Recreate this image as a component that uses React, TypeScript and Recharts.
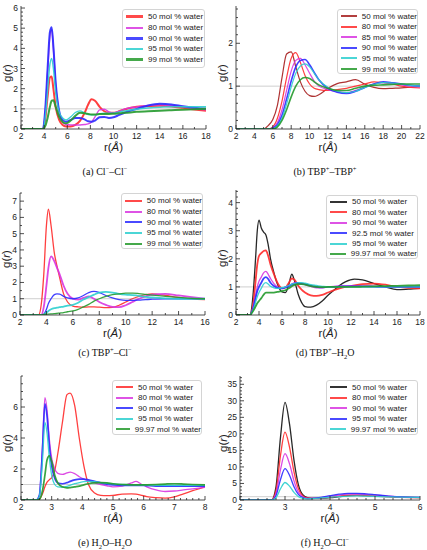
import { LineChart, Line, XAxis, YAxis, ReferenceLine } from "recharts";

// ---------- (a) Cl–Cl ----------
const rA = [2, 3.9, 4.1, 4.3, 4.5, 4.65, 4.8, 5.0, 5.3, 5.6, 5.9, 6.3, 6.7, 7.1, 7.5, 7.8, 8.1, 8.4, 8.8, 9.2, 9.6, 10, 10.5, 11, 12, 13, 14, 15, 16, 17, 18];
const clcl50 = [0, 0, 0.5, 1.6, 2.55, 2.6, 2.0, 1.1, 0.45, 0.2, 0.13, 0.12, 0.2, 0.4, 0.8, 1.2, 1.48, 1.4, 1.1, 0.88, 0.8, 0.8, 0.88, 0.98, 1.1, 1.13, 1.15, 1.12, 1.05, 0.97, 0.9];
const clcl80 = [0, 0, 0.9, 2.8, 4.6, 4.95, 4.0, 2.2, 0.8, 0.35, 0.22, 0.2, 0.2, 0.2, 0.22, 0.25, 0.35, 0.6, 0.95, 0.98, 0.85, 0.8, 0.88, 1.0, 1.1, 1.17, 1.2, 1.17, 1.1, 1.0, 0.95];
const clcl90 = [0, 0, 1.0, 3.0, 4.8, 5.05, 4.1, 2.3, 0.9, 0.45, 0.36, 0.45, 0.55, 0.55, 0.48, 0.38, 0.36, 0.42, 0.58, 0.6, 0.55, 0.58, 0.7, 0.82, 1.0, 1.17, 1.25, 1.22, 1.13, 1.05, 1.0];
const clcl95 = [0, 0, 0.6, 1.9, 3.2, 3.5, 3.0, 1.8, 0.85, 0.55, 0.45, 0.6, 0.82, 0.9, 0.8, 0.72, 0.7, 0.7, 0.75, 0.78, 0.78, 0.78, 0.85, 0.9, 0.98, 1.04, 1.08, 1.1, 1.1, 1.1, 1.1];
const clcl99 = [0, 0, 0.15, 0.55, 1.1, 1.4, 1.42, 1.1, 0.6, 0.35, 0.28, 0.42, 0.65, 0.8, 0.78, 0.75, 0.72, 0.72, 0.74, 0.75, 0.75, 0.76, 0.78, 0.8, 0.85, 0.88, 0.9, 0.93, 0.96, 0.98, 1.0];

// ---------- (b) TBP–TBP ----------
const rB = [2, 5.0, 5.5, 6, 6.5, 7, 7.5, 8, 8.5, 9, 9.5, 10, 10.5, 11, 12, 13, 14, 15, 16, 17, 18, 19, 20, 21, 22];
const tt50 = [0, 0, 0.08, 0.22, 0.55, 1.2, 1.75, 1.8, 1.45, 1.1, 0.88, 0.78, 0.76, 0.8, 0.95, 1.06, 1.1, 1.15, 1.05, 0.97, 0.94, 0.95, 0.96, 0.98, 1.0];
const tt80 = [0, 0, 0, 0.05, 0.25, 0.65, 1.2, 1.65, 1.78, 1.55, 1.25, 1.05, 0.95, 0.92, 0.9, 0.92, 0.95, 1.0, 1.05, 1.1, 1.08, 1.05, 1.0, 0.97, 0.96];
const tt85 = [0, 0, 0, 0.03, 0.15, 0.45, 0.9, 1.35, 1.6, 1.65, 1.5, 1.3, 1.12, 1.0, 0.92, 0.87, 0.85, 0.9, 0.98, 1.05, 1.08, 1.07, 1.03, 1.0, 0.98];
const tt90 = [0, 0, 0, 0.02, 0.1, 0.32, 0.7, 1.12, 1.45, 1.6, 1.62, 1.5, 1.32, 1.15, 0.95, 0.86, 0.83, 0.88, 0.97, 1.05, 1.1, 1.08, 1.05, 1.02, 1.0];
const tt95 = [0, 0, 0, 0.01, 0.07, 0.25, 0.58, 0.98, 1.3, 1.47, 1.52, 1.45, 1.3, 1.15, 0.97, 0.88, 0.85, 0.88, 0.97, 1.04, 1.08, 1.07, 1.05, 1.02, 1.0];
const tt99 = [0, 0, 0, 0, 0.05, 0.2, 0.45, 0.75, 1.0, 1.15, 1.2, 1.18, 1.1, 1.03, 0.95, 0.9, 0.9, 0.95, 1.0, 1.02, 1.03, 1.04, 1.05, 1.05, 1.05];

// ---------- (c) TBP–Cl ----------
const rC = [2, 3.4, 3.6, 3.8, 4.0, 4.15, 4.35, 4.6, 4.8, 5.0, 5.3, 5.6, 6.0, 6.4, 6.8, 7.2, 7.6, 8.0, 8.5, 9.0, 9.5, 10, 10.5, 11, 11.5, 12, 13, 14, 15, 16];
const tc50 = [0, 0, 0.6, 2.5, 5.5, 6.5, 5.5, 3.8, 3.0, 2.3, 1.3, 0.8, 0.55, 0.5, 0.48, 0.5, 0.5, 0.48, 0.45, 0.47, 0.6, 0.8, 1.0, 1.15, 1.25, 1.3, 1.2, 1.08, 1.0, 0.95];
const tc80 = [0, 0, 0, 0.5, 1.8, 2.9, 3.6, 3.3, 2.9, 2.5, 1.8, 1.3, 1.0, 0.95, 1.05, 1.15, 1.0, 0.8, 0.62, 0.5, 0.48, 0.6, 0.8, 1.0, 1.15, 1.25, 1.3, 1.2, 1.1, 1.0];
const tc90 = [0, 0, 0, 0.05, 0.35, 0.7, 1.0, 1.25, 1.3, 1.28, 1.15, 1.05, 1.0, 1.05, 1.2, 1.38, 1.45, 1.38, 1.2, 1.05, 0.95, 0.9, 0.9, 0.92, 0.95, 0.97, 1.0, 1.0, 1.0, 1.0];
const tc95 = [0, 0, 0, 0.02, 0.15, 0.25, 0.35, 0.42, 0.45, 0.48, 0.52, 0.58, 0.62, 0.75, 0.95, 1.1, 1.25, 1.38, 1.42, 1.38, 1.3, 1.25, 1.22, 1.18, 1.12, 1.08, 1.02, 1.0, 1.0, 1.0];
const tc99 = [0, 0, 0.01, 0.03, 0.05, 0.06, 0.07, 0.08, 0.1, 0.12, 0.15, 0.2, 0.25, 0.35, 0.5, 0.65, 0.85, 1.0, 1.15, 1.25, 1.3, 1.35, 1.35, 1.32, 1.27, 1.22, 1.15, 1.08, 1.02, 1.0];

// ---------- (d) TBP–H2O ----------
const rD = [2, 3.2, 3.5, 3.7, 3.85, 4.0, 4.2, 4.4, 4.6, 4.8, 5.0, 5.3, 5.6, 6.0, 6.3, 6.6, 6.85, 7.1, 7.4, 7.7, 8.0, 8.5, 9, 9.5, 10, 10.5, 11, 11.5, 12.3, 13, 14, 15, 16, 17, 18];
const tw50 = [0, 0, 0.8, 2.0, 3.0, 3.38, 3.1, 2.95, 2.85, 2.5, 2.0, 1.5, 1.1, 0.82, 0.8, 1.1, 1.45, 1.2, 0.75, 0.45, 0.3, 0.28, 0.35, 0.5, 0.7, 0.88, 1.05, 1.18, 1.28, 1.25, 1.12, 1.0, 0.9, 0.92, 0.95];
const tw80 = [0, 0, 0.4, 1.2, 1.8, 2.1, 2.2, 2.28, 2.3, 2.1, 1.8, 1.45, 1.15, 0.95, 0.98, 1.15, 1.3, 1.25, 1.05, 0.9, 0.8, 0.7, 0.68, 0.72, 0.8, 0.88, 0.95, 1.0, 1.05, 1.1, 1.12, 1.08, 1.0, 0.97, 0.95];
const tw90 = [0, 0, 0.3, 0.7, 1.0, 1.2, 1.35, 1.5, 1.55, 1.45, 1.3, 1.12, 1.0, 0.95, 1.0, 1.05, 1.1, 1.15, 1.15, 1.12, 1.08, 1.02, 0.97, 0.97, 1.0, 1.02, 1.03, 1.04, 1.04, 1.03, 1.02, 1.0, 1.0, 1.0, 1.0];
const tw925 = [0, 0, 0.25, 0.6, 0.85, 1.0, 1.15, 1.3, 1.35, 1.28, 1.15, 1.03, 0.97, 0.95, 0.98, 1.03, 1.08, 1.12, 1.14, 1.12, 1.1, 1.05, 1.0, 0.98, 1.0, 1.0, 1.01, 1.02, 1.02, 1.02, 1.01, 1.0, 1.0, 1.0, 1.0];
const tw95 = [0, 0, 0.2, 0.45, 0.65, 0.8, 0.95, 1.1, 1.15, 1.1, 1.02, 0.97, 0.95, 0.97, 1.0, 1.05, 1.1, 1.12, 1.15, 1.15, 1.13, 1.08, 1.05, 1.02, 1.0, 1.0, 1.0, 1.0, 1.0, 1.0, 1.0, 1.0, 1.0, 1.0, 1.0];
const tw9997 = [0, 0, 0.15, 0.3, 0.42, 0.5, 0.6, 0.72, 0.8, 0.8, 0.8, 0.8, 0.82, 0.85, 0.88, 0.95, 1.02, 1.07, 1.1, 1.1, 1.08, 1.03, 1.0, 0.99, 1.0, 1.0, 1.0, 1.0, 1.0, 1.01, 1.02, 1.03, 1.04, 1.05, 1.06];

// ---------- (e) H2O–H2O ----------
const rE = [2, 2.5, 2.6, 2.7, 2.78, 2.85, 2.92, 3.0, 3.1, 3.2, 3.35, 3.5, 3.6, 3.75, 3.9, 4.05, 4.2, 4.4, 4.6, 4.8, 5.0, 5.3, 5.6, 5.75, 5.9, 6.1, 6.4, 6.7, 7.0, 7.3, 7.6, 8.0];
const ww50 = [0, 0, 0.05, 0.4, 0.85, 1.15, 1.3, 1.45, 1.9, 3.0, 5.0, 6.8, 6.9, 6.1, 4.0, 2.2, 1.0, 0.45, 0.3, 0.28, 0.3, 0.38, 0.4, 0.38, 0.32, 0.22, 0.15, 0.12, 0.2, 0.4, 0.6, 0.85];
const ww80 = [0, 0, 0.3, 3.5, 6.6, 5.8, 4.0, 2.7, 2.0, 1.72, 1.65, 1.75, 1.8, 1.7, 1.5, 1.35, 1.25, 1.1, 1.0, 0.92, 0.85, 0.9, 1.1, 1.2, 1.05, 0.85, 0.65, 0.55, 0.58, 0.65, 0.72, 0.82];
const ww90 = [0, 0, 0.3, 3.2, 6.2, 5.4, 3.6, 2.2, 1.4, 1.1, 1.05, 1.12, 1.2, 1.3, 1.35, 1.35, 1.3, 1.2, 1.1, 1.02, 0.97, 0.95, 0.95, 0.95, 0.95, 0.93, 0.9, 0.9, 0.9, 0.9, 0.9, 0.9];
const ww95 = [0, 0, 0.25, 2.5, 5.0, 4.3, 2.8, 1.6, 1.0, 0.85, 0.82, 0.88, 0.95, 1.05, 1.12, 1.18, 1.2, 1.18, 1.12, 1.08, 1.05, 1.0, 0.98, 0.97, 0.97, 0.96, 0.95, 0.95, 0.95, 0.95, 0.95, 0.95];
const ww9997 = [0, 0, 0.05, 0.6, 1.6, 2.6, 2.85, 2.5, 1.6, 1.1, 0.85, 0.78, 0.8, 0.85, 0.9, 0.98, 1.05, 1.1, 1.12, 1.1, 1.05, 1.0, 0.98, 0.97, 0.97, 0.98, 1.0, 1.03, 1.05, 1.03, 1.0, 0.97];

// ---------- (f) H2O–Cl ----------
const rF = [2, 2.7, 2.8, 2.9, 3.0, 3.1, 3.2, 3.3, 3.4, 3.5, 3.6, 3.8, 4.0, 4.2, 4.4, 4.6, 4.8, 5.0, 5.3, 5.6, 6.0];
const wc50 = [0, 0, 4, 19, 29.5, 23, 12, 4.5, 1.5, 0.7, 0.5, 0.5, 0.7, 1.0, 1.3, 1.4, 1.3, 1.2, 1.0, 0.85, 0.7];
const wc80 = [0, 0, 2.8, 13.5, 20.5, 16, 8.5, 3.3, 1.2, 0.6, 0.5, 0.6, 0.9, 1.2, 1.5, 1.5, 1.4, 1.2, 1.0, 0.8, 0.7];
const wc90 = [0, 0, 1.9, 9.2, 14, 11, 5.8, 2.3, 0.9, 0.5, 0.5, 0.7, 1.1, 1.5, 1.75, 1.8, 1.7, 1.5, 1.2, 0.95, 0.8];
const wc95 = [0, 0, 1.3, 6.2, 9.5, 7.5, 4.0, 1.6, 0.7, 0.4, 0.45, 0.8, 1.3, 1.75, 2.0, 2.0, 1.85, 1.6, 1.2, 0.95, 0.8];
const wc9997 = [0, 0, 0.7, 3.4, 5.3, 4.2, 2.3, 1.0, 0.5, 0.35, 0.4, 0.6, 0.85, 1.05, 1.2, 1.25, 1.2, 1.1, 0.95, 0.85, 0.8];

const RED = "#ff2a2a";
const MAG = "#d835e0";
const BLUE = "#2a2aff";
const CYAN = "#2ccfcf";
const GREEN = "#249a2c";
const DARKRED = "#a51c1c";
const BLACK = "#111111";

const SANS = "'Liberation Sans', Arial, sans-serif";
const SERIF = "'Liberation Serif', 'Times New Roman', serif";

interface Series {
  name: string;
  color: string;
  values: number[];
  width?: number;
}

interface PanelDef {
  r: number[];
  series: Series[];
  plot: { left: number; top: number; right: number; bottom: number };
  xDomain: [number, number];
  xTicks: number[];
  xMinor: number;
  yDomain: [number, number];
  yTicks: number[];
  yMinor: number;
  legend: { left: number; top: number; width: number; height: number; pad: number; row: number };
  caption: React.ReactNode;
  captionX: number;
  captionY: number;
  gx: number;
  lw: number;
}

const range = (a: number, b: number, step: number) => {
  const out: number[] = [];
  for (let v = a; v <= b + 1e-9; v += step) out.push(Math.round(v * 1000) / 1000);
  return out;
};

const isIn = (list: number[], v: number) => list.some((m) => Math.abs(m - v) < 1e-6);

// frame ticks point inwards; major ones are longer and labelled on bottom/left
const makeTick =
  (side: "bottom" | "top" | "left" | "right", majors: number[], labels: boolean) =>
  (props: any) => {
    const { x, y, payload } = props;
    const v = payload.value;
    const major = isIn(majors, v);
    const len = major ? 4 : 2;
    let line;
    if (side === "bottom") line = <line x1={x} y1={y} x2={x} y2={y - len} stroke="#222" strokeWidth={0.8} />;
    else if (side === "top") line = <line x1={x} y1={y} x2={x} y2={y + len} stroke="#222" strokeWidth={0.8} />;
    else if (side === "left") line = <line x1={x} y1={y} x2={x + len} y2={y} stroke="#222" strokeWidth={0.8} />;
    else line = <line x1={x} y1={y} x2={x - len} y2={y} stroke="#222" strokeWidth={0.8} />;
    return (
      <g>
        {line}
        {labels && major && side === "bottom" && (
          <text x={x} y={y + 9.5} textAnchor="middle" fontSize={8.5} fontFamily={SANS} fill="#222">
            {v}
          </text>
        )}
        {labels && major && side === "left" && (
          <text x={x - 3} y={y + 3} textAnchor="end" fontSize={8.5} fontFamily={SANS} fill="#222">
            {v}
          </text>
        )}
      </g>
    );
  };

function Panel({ d }: { d: PanelDef }) {
  const padL = 22;
  const padT = 2;
  const padR = 8;
  const padB = 20;
  const w = d.plot.right - d.plot.left + padL + padR;
  const h = d.plot.bottom - d.plot.top + padT + padB;
  const rows = d.r.map((x, i) => {
    const row: any = { r: x };
    d.series.forEach((s, k) => (row["s" + k] = s.values[i]));
    return row;
  });
  const xAll = range(d.xDomain[0], d.xDomain[1], d.xMinor);
  const yAll = range(d.yDomain[0], d.yDomain[1], d.yMinor);
  const midX = (d.plot.left + d.plot.right) / 2;
  const midY = (d.plot.top + d.plot.bottom) / 2 + 5;
  return (
    <>
      <div style={{ position: "absolute", left: d.plot.left - padL, top: d.plot.top - padT }}>
        <LineChart width={w} height={h} data={rows} margin={{ top: padT, right: padR, left: 0, bottom: 0 }}>
          <XAxis
            xAxisId="x"
            dataKey="r"
            type="number"
            domain={d.xDomain}
            ticks={xAll}
            interval={0}
            allowDataOverflow
            height={padB}
            tickSize={0}
            tickMargin={0}
            tickLine={false}
            axisLine={{ stroke: "#222", strokeWidth: 0.8 }}
            tick={makeTick("bottom", d.xTicks, true)}
          />
          <XAxis
            xAxisId="xt"
            orientation="top"
            type="number"
            domain={d.xDomain}
            ticks={xAll}
            interval={0}
            allowDataOverflow
            height={0}
            tickSize={0}
            tickMargin={0}
            tickLine={false}
            axisLine={{ stroke: "#222", strokeWidth: 0.8 }}
            tick={makeTick("top", d.xTicks, false)}
          />
          <YAxis
            yAxisId="y"
            type="number"
            domain={d.yDomain}
            ticks={yAll}
            interval={0}
            allowDataOverflow
            width={padL}
            tickSize={0}
            tickMargin={0}
            tickLine={false}
            axisLine={{ stroke: "#222", strokeWidth: 0.8 }}
            tick={makeTick("left", d.yTicks, true)}
          />
          <YAxis
            yAxisId="yr"
            orientation="right"
            type="number"
            domain={d.yDomain}
            ticks={yAll}
            interval={0}
            allowDataOverflow
            width={0}
            tickSize={0}
            tickMargin={0}
            tickLine={false}
            axisLine={{ stroke: "#222", strokeWidth: 0.8 }}
            tick={makeTick("right", d.yTicks, false)}
          />
          <ReferenceLine xAxisId="x" yAxisId="y" y={1} stroke="#cfcfcf" strokeWidth={1} />
          {d.series.map((s, k) => (
            <Line
              key={s.name}
              xAxisId="x"
              yAxisId="y"
              dataKey={"s" + k}
              type="monotone"
              stroke={s.color}
              strokeWidth={s.width ?? d.lw}
              strokeOpacity={0.9}
              dot={false}
              isAnimationActive={false}
            />
          ))}
        </LineChart>
      </div>
      <div
        style={{
          position: "absolute",
          left: d.gx - 20,
          top: midY - 8,
          width: 40,
          height: 16,
          lineHeight: "16px",
          textAlign: "center",
          transform: "rotate(-90deg)",
          fontFamily: SANS,
          fontSize: 11.5,
          color: "#222",
        }}
      >
        g(<i>r</i>)
      </div>
      <div
        style={{
          position: "absolute",
          left: midX - 25,
          top: d.plot.bottom + 11,
          width: 50,
          textAlign: "center",
          fontFamily: SANS,
          fontSize: 11.5,
          lineHeight: "14px",
          color: "#222",
        }}
      >
        r(<i>Å</i>)
      </div>
      <div
        style={{
          position: "absolute",
          left: d.legend.left,
          top: d.legend.top,
          width: d.legend.width,
          height: d.legend.height,
          boxSizing: "border-box",
          border: "1px solid #d4d4d4",
          borderRadius: 3,
          background: "#fff",
          paddingTop: d.legend.pad,
        }}
      >
        {d.series.map((s) => (
          <div key={s.name} style={{ display: "flex", alignItems: "center", height: d.legend.row }}>
            <span
              style={{
                display: "inline-block",
                marginLeft: 3,
                width: 17,
                height: Math.max(2, Math.round((s.width ?? d.lw) + 0.6)),
                background: s.color,
                opacity: 0.85,
              }}
            />
            <span style={{ marginLeft: 5, fontFamily: SANS, fontSize: 8, color: "#222", whiteSpace: "nowrap" }}>
              {s.name}
            </span>
          </div>
        ))}
      </div>
      <div
        style={{
          position: "absolute",
          left: d.captionX - 70,
          top: d.captionY - 7,
          width: 140,
          textAlign: "center",
          fontFamily: SERIF,
          fontSize: 10,
          lineHeight: "14px",
          color: "#111",
        }}
      >
        {d.caption}
      </div>
    </>
  );
}

const sup = (t: string) => <sup style={{ fontSize: 6.5, lineHeight: 0 }}>{t}</sup>;
const sub = (t: string) => <sub style={{ fontSize: 6.5, lineHeight: 0 }}>{t}</sub>;

const panels: PanelDef[] = [
  {
    r: rA,
    series: [
      { name: "50 mol % water", color: RED, values: clcl50, width: 2 },
      { name: "80 mol % water", color: MAG, values: clcl80, width: 1.4 },
      { name: "90 mol % water", color: BLUE, values: clcl90, width: 2 },
      { name: "95 mol % water", color: CYAN, values: clcl95, width: 1.4 },
      { name: "99 mol % water", color: GREEN, values: clcl99, width: 2 },
    ],
    plot: { left: 21, top: 6, right: 206, bottom: 129 },
    xDomain: [2, 18],
    xTicks: [2, 4, 6, 8, 10, 12, 14, 16, 18],
    xMinor: 1,
    yDomain: [0, 6.1],
    yTicks: [0, 1, 2, 3, 4, 5, 6],
    yMinor: 0.2,
    legend: { left: 122, top: 9, width: 83, height: 59, pad: 1.5, row: 10.7 },
    caption: <>(a) Cl{sup("−")}–Cl{sup("−")}</>,
    captionX: 105,
    captionY: 172,
    gx: 7,
    lw: 1.6,
  },
  {
    r: rB,
    series: [
      { name: "50 mol % water", color: DARKRED, values: tt50 },
      { name: "80 mol % water", color: RED, values: tt80 },
      { name: "85 mol % water", color: MAG, values: tt85 },
      { name: "90 mol % water", color: BLUE, values: tt90, width: 1.6 },
      { name: "95 mol % water", color: CYAN, values: tt95 },
      { name: "99 mol % water", color: GREEN, values: tt99, width: 1.6 },
    ],
    plot: { left: 236, top: 6, right: 420, bottom: 129 },
    xDomain: [2, 22],
    xTicks: [2, 4, 6, 8, 10, 12, 14, 16, 18, 20, 22],
    xMinor: 1,
    yDomain: [0, 2.87],
    yTicks: [0, 1, 2],
    yMinor: 0.2,
    legend: { left: 337, top: 9, width: 81, height: 65, pad: 0.8, row: 10.6 },
    caption: <>(b) TBP{sup("+")}–TBP{sup("+")}</>,
    captionX: 325,
    captionY: 172,
    gx: 222,
    lw: 1.2,
  },
  {
    r: rC,
    series: [
      { name: "50 mol % water", color: RED, values: tc50 },
      { name: "80 mol % water", color: MAG, values: tc80, width: 1.8 },
      { name: "90 mol % water", color: BLUE, values: tc90 },
      { name: "95 mol % water", color: CYAN, values: tc95, width: 1.8 },
      { name: "99 mol % water", color: GREEN, values: tc99 },
    ],
    plot: { left: 20, top: 193, right: 205, bottom: 315 },
    xDomain: [2, 16],
    xTicks: [2, 4, 6, 8, 10, 12, 14, 16],
    xMinor: 1,
    yDomain: [0, 7.5],
    yTicks: [0, 1, 2, 3, 4, 5, 6, 7],
    yMinor: 0.5,
    legend: { left: 121, top: 193, width: 82, height: 56, pad: 1.5, row: 10.7 },
    caption: <>(c) TBP{sup("+")}–Cl{sup("−")}</>,
    captionX: 105,
    captionY: 353,
    gx: 6,
    lw: 1.3,
  },
  {
    r: rD,
    series: [
      { name: "50 mol % water", color: BLACK, values: tw50 },
      { name: "80 mol % water", color: RED, values: tw80, width: 1.8 },
      { name: "90 mol % water", color: MAG, values: tw90 },
      { name: "92.5 mol % water", color: BLUE, values: tw925, width: 1.8 },
      { name: "95 mol % water", color: CYAN, values: tw95 },
      { name: "99.97 mol % water", color: GREEN, values: tw9997, width: 1.8 },
    ],
    plot: { left: 236, top: 190, right: 420, bottom: 315 },
    xDomain: [2, 18],
    xTicks: [2, 4, 6, 8, 10, 12, 14, 16, 18],
    xMinor: 1,
    yDomain: [0, 4.45],
    yTicks: [0, 1, 2, 3, 4],
    yMinor: 0.2,
    legend: { left: 326, top: 195, width: 92, height: 64, pad: 0.8, row: 10.4 },
    caption: <>(d) TBP{sup("+")}–H{sub("2")}O</>,
    captionX: 325,
    captionY: 353,
    gx: 222,
    lw: 1.3,
  },
  {
    r: rE,
    series: [
      { name: "50 mol % water", color: RED, values: ww50 },
      { name: "80 mol % water", color: MAG, values: ww80 },
      { name: "90 mol % water", color: BLUE, values: ww90, width: 1.7 },
      { name: "95 mol % water", color: CYAN, values: ww95 },
      { name: "99.97 mol % water", color: GREEN, values: ww9997, width: 1.7 },
    ],
    plot: { left: 21, top: 376, right: 205, bottom: 500 },
    xDomain: [2, 8],
    xTicks: [2, 3, 4, 5, 6, 7, 8],
    xMinor: 0.2,
    yDomain: [0, 8],
    yTicks: [0, 2, 4, 6],
    yMinor: 0.5,
    legend: { left: 112, top: 380, width: 90, height: 55, pad: 0.8, row: 10.5 },
    caption: <>(e) H{sub("2")}O–H{sub("2")}O</>,
    captionX: 105,
    captionY: 543,
    gx: 7,
    lw: 1.3,
  },
  {
    r: rF,
    series: [
      { name: "50 mol % water", color: BLACK, values: wc50 },
      { name: "80 mol % water", color: RED, values: wc80 },
      { name: "90 mol % water", color: MAG, values: wc90 },
      { name: "95 mol % water", color: BLUE, values: wc95 },
      { name: "99.97 mol % water", color: CYAN, values: wc9997 },
    ],
    plot: { left: 240, top: 376, right: 420, bottom: 500 },
    xDomain: [2, 6],
    xTicks: [2, 3, 4, 5, 6],
    xMinor: 0.2,
    yDomain: [0, 37.5],
    yTicks: [0, 5, 10, 15, 20, 25, 30, 35],
    yMinor: 1,
    legend: { left: 326, top: 380, width: 92, height: 55, pad: 0.8, row: 10.5 },
    caption: <>(f) H{sub("2")}O–Cl{sup("−")}</>,
    captionX: 325,
    captionY: 543,
    gx: 223,
    lw: 1.3,
  },
];

export default function App() {
  return (
    <div style={{ position: "relative", width: 427, height: 550, background: "#fff", overflow: "hidden" }}>
      <style>{"body{margin:0;}"}</style>
      {panels.map((d, i) => (
        <Panel key={i} d={d} />
      ))}
    </div>
  );
}
